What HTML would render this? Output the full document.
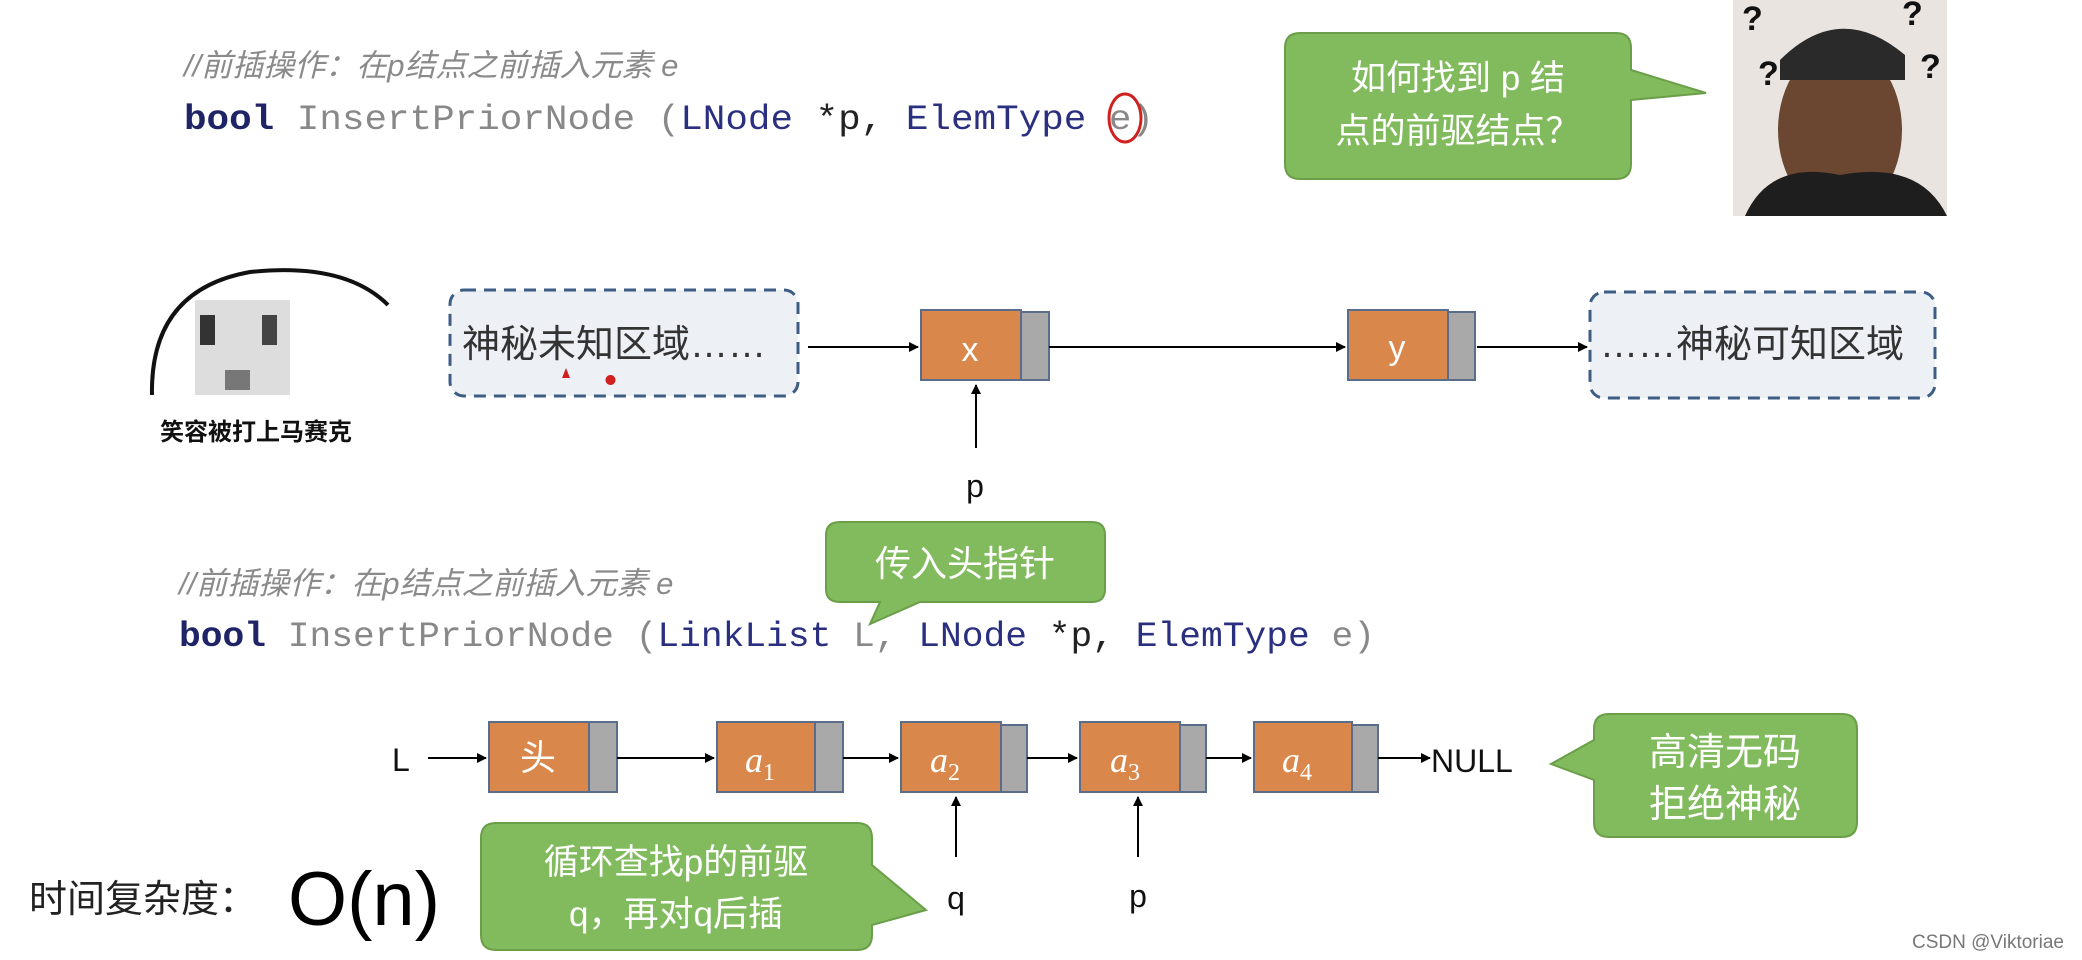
<!DOCTYPE html>
<html><head><meta charset="utf-8"><style>
html,body{margin:0;padding:0;background:#fff;}
body{width:2082px;height:960px;overflow:hidden;position:relative;font-family:"Liberation Sans","Noto Sans CJK SC",sans-serif;}
</style></head><body>
<svg width="2082" height="960" viewBox="0 0 2082 960" xmlns="http://www.w3.org/2000/svg" style="position:absolute;left:0;top:0">
<defs>
<marker id="ah" markerWidth="10" markerHeight="10" refX="9" refY="5" orient="auto" markerUnits="userSpaceOnUse"><path d="M0,0 L10,5 L0,10 z" fill="#000"/></marker>
</defs>
<g font-family="'Liberation Sans','Noto Sans CJK SC',sans-serif">
<!-- code 1 -->
<text x="184" y="76" font-size="31" fill="#8a8a8a" font-style="italic">//前插操作：在p结点之前插入元素 e</text>
<text x="184" y="129" font-size="35" font-family="'Liberation Mono',monospace" fill="#888" textLength="970" lengthAdjust="spacingAndGlyphs"><tspan fill="#1e2466" font-weight="bold">bool</tspan> InsertPriorNode (<tspan fill="#2a2f80">LNode</tspan> <tspan fill="#222">*p,</tspan> <tspan fill="#2a2f80">ElemType</tspan> e)</text>
<ellipse cx="1125" cy="118" rx="16" ry="24" fill="none" stroke="#d02020" stroke-width="3"/>

<!-- bubble top -->
<path d="M1300,33 H1616 Q1631,33 1631,48 V70 L1706,93 L1631,100 V164 Q1631,179 1616,179 H1300 Q1285,179 1285,164 V48 Q1285,33 1300,33 Z" fill="#82bb5e" stroke="#6a9e48" stroke-width="2"/>
<text x="1458" y="90" font-size="35" fill="#fff" text-anchor="middle">如何找到 p 结</text>
<text x="1458" y="143" font-size="35" fill="#fff" text-anchor="middle">点的前驱结点？</text>

<!-- photo -->
<rect x="1733" y="0" width="214" height="216" fill="#e9e4e0"/>
<ellipse cx="1840" cy="130" rx="62" ry="85" fill="#6b4630"/>
<path d="M1780,60 Q1840,0 1905,55 L1905,80 L1780,80 Z" fill="#2a2a2a"/>
<path d="M1745,216 Q1770,160 1840,175 Q1920,160 1947,216 Z" fill="#1e1e1e"/>
<text x="1742" y="30" font-size="34" font-weight="bold" fill="#111">?</text>
<text x="1902" y="25" font-size="34" font-weight="bold" fill="#111">?</text>
<text x="1758" y="85" font-size="34" font-weight="bold" fill="#111">?</text>
<text x="1920" y="78" font-size="34" font-weight="bold" fill="#111">?</text>

<!-- ghost -->
<path d="M152,395 Q150,290 250,272 Q345,262 388,305" fill="none" stroke="#111" stroke-width="4"/>
<rect x="195" y="300" width="95" height="95" fill="#cfcfcf" opacity="0.7"/>
<rect x="200" y="315" width="15" height="30" fill="#333"/><rect x="262" y="315" width="15" height="30" fill="#444"/>
<rect x="225" y="370" width="25" height="20" fill="#777"/>
<text x="160" y="440" font-size="24" font-weight="bold" fill="#111">笑容被打上马赛克</text>

<!-- dashed boxes -->
<rect x="450" y="290" width="348" height="106" rx="14" fill="#edf0f5" stroke="#3e5d85" stroke-width="3" stroke-dasharray="12,8"/>
<text x="462" y="357" font-size="38" fill="#333">神秘未知区域……</text>
<path d="M562,378 l4,-10 l4,10 z M610,375 a5,5 0 1,0 1,0" fill="#d02020"/>
<rect x="1590" y="292" width="345" height="106" rx="14" fill="#edf0f5" stroke="#3e5d85" stroke-width="3" stroke-dasharray="12,8"/>
<text x="1600" y="357" font-size="38" fill="#333">……神秘可知区域</text>

<!-- x y nodes -->
<rect x="921" y="310" width="100" height="70" fill="#d9874a" stroke="#5a6e8c" stroke-width="2"/>
<rect x="1021" y="312" width="28" height="68" fill="#a9a9a9" stroke="#5a6e8c" stroke-width="2"/>
<text x="970" y="361" font-size="34" fill="#fff" text-anchor="middle">x</text>
<rect x="1348" y="310" width="100" height="70" fill="#d9874a" stroke="#5a6e8c" stroke-width="2"/>
<rect x="1448" y="312" width="27" height="68" fill="#a9a9a9" stroke="#5a6e8c" stroke-width="2"/>
<text x="1397" y="359" font-size="34" fill="#fff" text-anchor="middle">y</text>
<g stroke="#000" stroke-width="2" marker-end="url(#ah)">
<line x1="808" y1="347" x2="918" y2="347"/>
<line x1="1049" y1="347" x2="1345" y2="347"/>
<line x1="1477" y1="347" x2="1587" y2="347"/>
<line x1="976" y1="448" x2="976" y2="385"/>
</g>
<text x="975" y="497" font-size="32" fill="#111" text-anchor="middle">p</text>

<!-- bubble 传入头指针 -->
<path d="M840,522 H1092 Q1105,522 1105,535 V589 Q1105,602 1092,602 H920 L870,624 L880,602 H840 Q826,602 826,589 V535 Q826,522 840,522 Z" fill="#82bb5e" stroke="#6a9e48" stroke-width="2"/>
<text x="965" y="576" font-size="36" fill="#fff" text-anchor="middle">传入头指针</text>

<!-- code 2 -->
<text x="179" y="594" font-size="31" fill="#8a8a8a" font-style="italic">//前插操作：在p结点之前插入元素 e</text>
<text x="179" y="646" font-size="35" font-family="'Liberation Mono',monospace" fill="#888" textLength="1196" lengthAdjust="spacingAndGlyphs"><tspan fill="#1e2466" font-weight="bold">bool</tspan> InsertPriorNode (<tspan fill="#2a2f80">LinkList</tspan> L, <tspan fill="#2a2f80">LNode</tspan> <tspan fill="#222">*p,</tspan> <tspan fill="#2a2f80">ElemType</tspan> e)</text>

<!-- list -->
<text x="392" y="771" font-size="32" fill="#111">L</text>
<g stroke="#5a6e8c" stroke-width="2">
<rect x="489" y="722" width="100" height="70" fill="#d9874a"/><rect x="589" y="722" width="28" height="70" fill="#a9a9a9"/>
<rect x="717" y="722" width="98" height="70" fill="#d9874a"/><rect x="815" y="722" width="28" height="70" fill="#a9a9a9"/>
<rect x="901" y="722" width="100" height="70" fill="#d9874a"/><rect x="1001" y="725" width="26" height="67" fill="#a9a9a9"/>
<rect x="1080" y="722" width="100" height="70" fill="#d9874a"/><rect x="1180" y="725" width="26" height="67" fill="#a9a9a9"/>
<rect x="1254" y="722" width="98" height="70" fill="#d9874a"/><rect x="1352" y="725" width="26" height="67" fill="#a9a9a9"/>
</g>
<text x="538" y="770" font-size="36" fill="#fff" text-anchor="middle">头</text>
<g font-family="'Liberation Serif',serif" font-style="italic" fill="#fff" font-size="36">
<text x="745" y="772">a<tspan font-size="24" font-style="normal" dy="8">1</tspan></text>
<text x="930" y="772">a<tspan font-size="24" font-style="normal" dy="8">2</tspan></text>
<text x="1110" y="772">a<tspan font-size="24" font-style="normal" dy="8">3</tspan></text>
<text x="1282" y="772">a<tspan font-size="24" font-style="normal" dy="8">4</tspan></text>
</g>
<g stroke="#000" stroke-width="2" marker-end="url(#ah)">
<line x1="428" y1="758" x2="486" y2="758"/>
<line x1="617" y1="758" x2="714" y2="758"/>
<line x1="843" y1="758" x2="898" y2="758"/>
<line x1="1027" y1="758" x2="1077" y2="758"/>
<line x1="1206" y1="758" x2="1251" y2="758"/>
<line x1="1378" y1="758" x2="1430" y2="758"/>
<line x1="956" y1="857" x2="956" y2="797"/>
<line x1="1138" y1="857" x2="1138" y2="797"/>
</g>
<text x="1431" y="772" font-size="32" fill="#111">NULL</text>
<text x="956" y="909" font-size="32" fill="#111" text-anchor="middle">q</text>
<text x="1138" y="907" font-size="32" fill="#111" text-anchor="middle">p</text>

<!-- bubble 高清无码 -->
<path d="M1609,714 H1842 Q1857,714 1857,729 V822 Q1857,837 1842,837 H1609 Q1594,837 1594,822 V780 L1551,764 L1594,740 V729 Q1594,714 1609,714 Z" fill="#82bb5e" stroke="#6a9e48" stroke-width="2"/>
<text x="1725" y="765" font-size="38" fill="#fff" text-anchor="middle">高清无码</text>
<text x="1725" y="817" font-size="38" fill="#fff" text-anchor="middle">拒绝神秘</text>

<!-- complexity -->
<text x="29" y="912" font-size="38" fill="#222">时间复杂度：</text>
<text x="288" y="925" font-size="76" fill="#000">O(n)</text>

<!-- bubble 循环 -->
<path d="M496,823 H857 Q872,823 872,838 V865 L926,910 L872,925 V935 Q872,950 857,950 H496 Q481,950 481,935 V838 Q481,823 496,823 Z" fill="#82bb5e" stroke="#6a9e48" stroke-width="2"/>
<text x="676" y="874" font-size="35" fill="#fff" text-anchor="middle">循环查找p的前驱</text>
<text x="676" y="926" font-size="35" fill="#fff" text-anchor="middle">q，再对q后插</text>

<text x="1912" y="948" font-size="19" fill="#777">CSDN @Viktoriae</text>
</g>
</svg>
</body></html>
